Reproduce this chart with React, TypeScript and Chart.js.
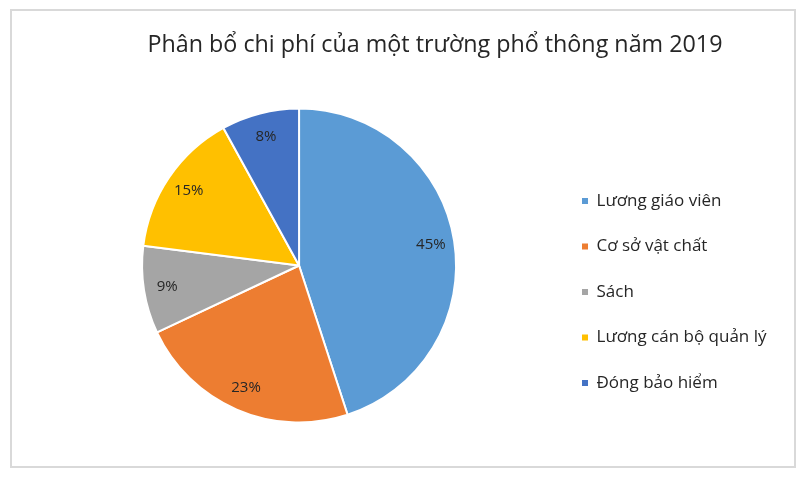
import { useEffect, useRef } from 'react';
import { Chart, PieController, ArcElement, Legend, Tooltip } from 'chart.js';

Chart.register(PieController, ArcElement, Legend, Tooltip);

const chartTitle = 'Phân bổ chi phí của một trường phổ thông năm 2019';
const categories = ['Lương giáo viên', 'Cơ sở vật chất', 'Sách', 'Lương cán bộ quản lý', 'Đóng bảo hiểm'];
const shares = [45, 23, 9, 15, 8];
const sliceColors = ['#5B9BD5', '#ED7D31', '#A5A5A5', '#FFC000', '#4472C4'];

// percent labels inside each slice
const sliceLabels = {
  id: 'sliceLabels',
  afterDatasetsDraw(chart: any) {
    const { ctx } = chart;
    const meta = chart.getDatasetMeta(0);
    const values = chart.data.datasets[0].data as number[];
    ctx.save();
    ctx.font = '15px "Open Sans"';
    ctx.fillStyle = '#262626';
    ctx.textAlign = 'center';
    ctx.textBaseline = 'middle';
    meta.data.forEach((arc: any, i: number) => {
      const { x, y, startAngle, endAngle, outerRadius } = arc.getProps(['x', 'y', 'startAngle', 'endAngle', 'outerRadius'], true);
      const mid = (startAngle + endAngle) / 2;
      const r = outerRadius * 0.85;
      ctx.fillText(values[i] + '%', x + Math.cos(mid) * r, y + Math.sin(mid) * r);
    });
    ctx.restore();
  },
};

// title sits off the pie's centre line, so it is drawn here
const chartHeading = {
  id: 'chartHeading',
  afterDraw(chart: any) {
    const { ctx } = chart;
    ctx.save();
    ctx.font = '23.3px "Open Sans"';
    ctx.fillStyle = '#262626';
    ctx.textAlign = 'center';
    ctx.textBaseline = 'alphabetic';
    ctx.fillText(chartTitle, 435, 52);
    ctx.restore();
  },
};

export default function App() {
  const chartRef = useRef<HTMLCanvasElement>(null);

  useEffect(() => {
    if (!chartRef.current) return;

    const chart = new Chart(chartRef.current, {
      type: 'pie',
      data: {
        labels: categories,
        datasets: [{
          data: shares,
          backgroundColor: sliceColors,
          borderColor: '#ffffff',
          borderWidth: 2,
        }],
      },
      options: {
        responsive: false,
        animation: false,
        layout: { padding: { top: 107.5, bottom: 60.5, left: 44.6, right: 33.5 } },
        plugins: {
          legend: {
            position: 'right',
            align: 'center',
            // blank title only pushes the items down a little
            title: { display: true, text: ' ', font: { size: 10 }, padding: { top: 41, bottom: 0 } },
            labels: {
              boxWidth: 6,
              boxHeight: 6,
              padding: 28.5,
              color: '#262626',
              font: { family: '"Open Sans"', size: 17 },
              generateLabels: () =>
                categories.map((text, i) => ({
                  text,
                  fillStyle: sliceColors[i],
                  strokeStyle: sliceColors[i],
                  fontColor: '#262626',
                  lineWidth: 0,
                  hidden: false,
                  index: i,
                })),
            },
          },
          tooltip: { enabled: false },
        },
      },
      plugins: [sliceLabels, chartHeading],
    });

    return () => {
      chart.destroy();
    };
  }, []);

  return (
    <div style={{ position: 'absolute', left: 0, top: 0, width: 810, height: 484, background: '#fff' }}>
      <div
        style={{
          position: 'absolute',
          left: 10,
          top: 9,
          width: 786,
          height: 459,
          border: '2px solid #d9d9d9',
          boxSizing: 'border-box',
        }}
      />
      <canvas ref={chartRef} width={810} height={484} style={{ position: 'absolute', left: 0, top: 0 }} />
    </div>
  );
}
